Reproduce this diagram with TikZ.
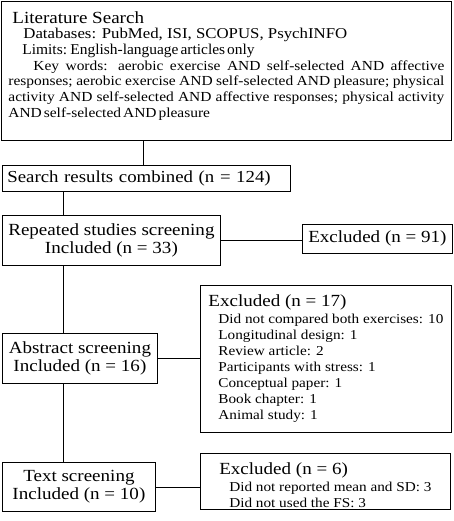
\documentclass[tikz,border=0pt]{standalone}
\usepackage{fontspec}
\setmainfont[FakeStretch=1.12]{Liberation Serif}
\usepackage{graphicx}
\usepackage{tikz}
\usetikzlibrary{positioning}

\begin{document}
\begin{tikzpicture}[x=1pt,y=-1pt]
   \tikzstyle{box}=[draw,line width=0.8pt,anchor=north west,inner sep=0pt,font=\fontsize{17}{18.5}\selectfont,align=center]
   \tikzstyle{list}=[box,align=left,inner xsep=8pt,font=\fontsize{13.6}{16}\selectfont]
   \useasboundingbox (0,0) rectangle (454,521);

   \node[box,inner xsep=7pt,text width=436pt,align=none,font=\fontsize{15}{15.7}\selectfont] (1) at (1,1) {\hyphenpenalty=10000\relax\emergencystretch=20pt\relax
     {\fontsize{17}{15.7}\selectfont\rule{0pt}{21.7pt}\hskip4pt Literature Search}\par
     \hskip15pt Databases: PubMed, ISI, SCOPUS, PsychINFO\par
     \hskip14pt\scalebox{0.92}[1]{\spaceskip=2.2pt\relax Limits: English-language articles only}\par
     {\fontsize{13.8}{15.7}\selectfont\hskip25pt Key words: aerobic exercise AND self-selected AND affective\linebreak
     responses; aerobic exercise AND self-selected AND pleasure; physical\linebreak
     activity AND self-selected AND affective responses; physical activity\linebreak
     \spaceskip=2pt\relax AND self-selected AND pleasure\rule[-23pt]{0pt}{23pt}\par}};
   \node[box,text width=278pt,align=left,inner xsep=5pt,minimum height=26pt,font=\fontsize{16.8}{18}\selectfont] (2) at (2,165.5) {Search results combined (n = 124)};
   \node[box,minimum width=218pt,minimum height=50pt] (3) at (2,215) {Repeated studies screening\\Included (n = 33)};
   \node[box,minimum width=150pt,minimum height=29pt] (4) at (302,224) {Excluded (n = 91)};
   \node[box,minimum width=155pt,minimum height=50pt] (5) at (2,333) {Abstract screening\\Included (n = 16)};
   \node[list,minimum width=250pt,minimum height=147pt] (6) at (200,285) {{\fontsize{17}{17}\selectfont Excluded (n = 17)}\\[1pt]
     \hspace*{10pt}Did not compared both exercises: 10\\
     \hspace*{10pt}Longitudinal design: 1\\
     \hspace*{10pt}Review article: 2\\
     \hspace*{10pt}Participants with stress: 1\\
     \hspace*{10pt}Conceptual paper: 1\\
     \hspace*{10pt}Book chapter: 1\\
     \hspace*{10pt}Animal study: 1};
   \node[box,minimum width=153pt,minimum height=49pt] (7) at (2,462) {Text screening\\Included (n = 10)};
   \node[list,minimum width=250pt,minimum height=56pt] (8) at (200,453) {{\fontsize{17}{17}\selectfont\rule{0pt}{20pt}Excluded (n = 6)}\\[1pt]
     \hspace*{10pt}Did not reported mean and SD: 3\\
     \hspace*{10pt}Did not used the FS: 3};

   \coordinate (drop) at (143,0);
   \coordinate (spine) at (63,0);
   \draw[line width=0.8pt] (drop |- 1.south) -- (drop |- 2.north);
   \draw[line width=0.8pt] (spine |- 2.south) -- (spine |- 3.north);
   \draw[line width=0.8pt] (spine |- 3.south) -- (spine |- 5.north);
   \draw[line width=0.8pt] (spine |- 5.south) -- (spine |- 7.north);
   \draw[line width=0.8pt] (3.east) -- (3.east -| 4.west);
   \draw[line width=0.8pt] (5.east) -- (5.east -| 6.west);
   \draw[line width=0.8pt] (7.east) -- (7.east -| 8.west);
\end{tikzpicture}
\end{document}
